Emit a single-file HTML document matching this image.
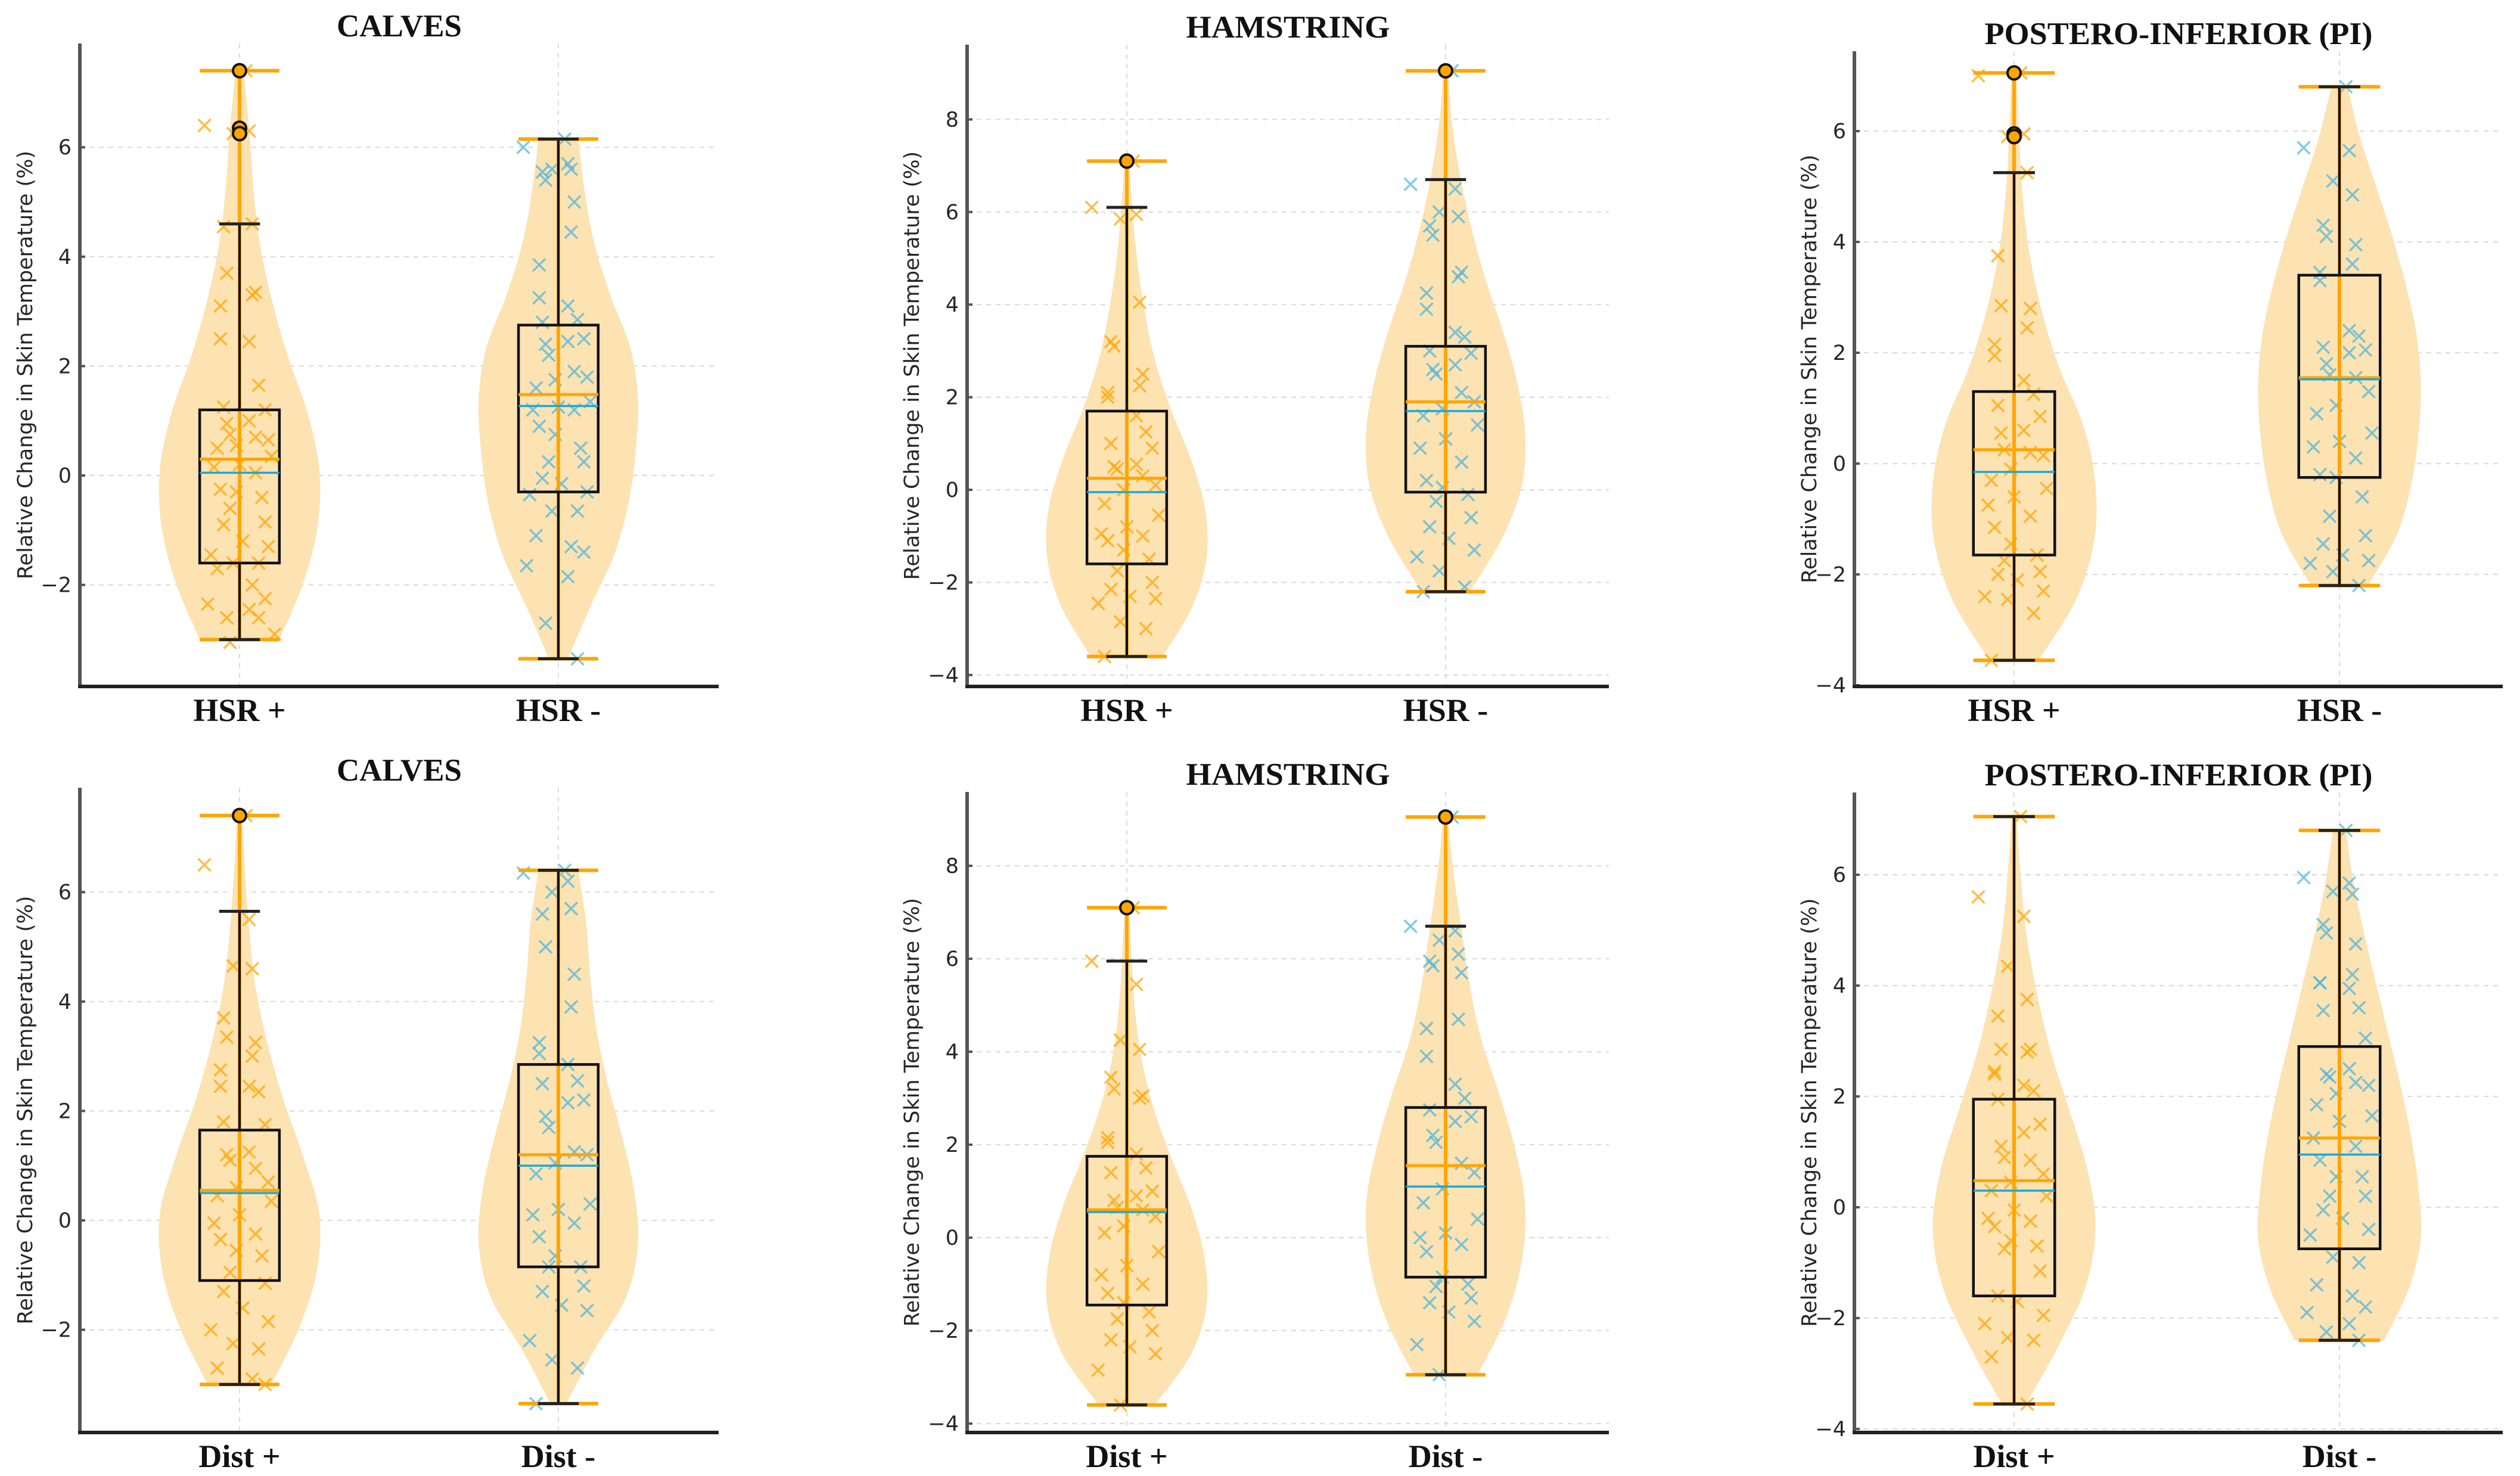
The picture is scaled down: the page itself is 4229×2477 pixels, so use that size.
<!DOCTYPE html>
<html><head><meta charset="utf-8">
<style>
html,body{margin:0;padding:0;background:#fff;}
svg{display:block;}
</style></head>
<body>
<svg id="fig" xmlns="http://www.w3.org/2000/svg" width="4229" height="2477" viewBox="0 0 4229 2477">
<rect width="4229" height="2477" fill="#fff"/>
</svg>
<script>
// ---------- DATA ----------
const panelTitles = ["CALVES","HAMSTRING","POSTERO-INFERIOR (PI)","CALVES","HAMSTRING","POSTERO-INFERIOR (PI)"];
const categoriesTop = ["HSR +","HSR -"];
const categoriesBottom = ["Dist +","Dist -"];
const ticksCalves = [-2,0,2,4,6];
const ticksHam = [-4,-2,0,2,4,6,8];
const ticksPI = [-4,-2,0,2,4,6];

// stats per group: [violinMin, violinMax, whiskerLow, whiskerHigh, q1, q3, median, mean]
const statsP1 = [[-3.0,7.4,-3.0,4.6,-1.6,1.2,0.3,0.05],[-3.35,6.15,-3.35,6.15,-0.3,2.75,1.48,1.27]];
const statsP2 = [[-3.6,7.1,-3.6,6.1,-1.6,1.7,0.25,-0.05],[-2.2,9.05,-2.2,6.7,-0.05,3.1,1.9,1.7]];
const statsP3 = [[-3.55,7.05,-3.55,5.25,-1.65,1.3,0.25,-0.15],[-2.2,6.8,-2.2,6.8,-0.25,3.4,1.55,1.52]];
const statsP4 = [[-3.0,7.4,-3.0,5.65,-1.1,1.65,0.55,0.5],[-3.35,6.4,-3.35,6.4,-0.85,2.85,1.2,1.0]];
const statsP5 = [[-3.6,7.1,-3.6,5.95,-1.45,1.75,0.6,0.55],[-2.95,9.05,-2.95,6.7,-0.85,2.8,1.55,1.1]];
const statsP6 = [[-3.55,7.05,-3.55,7.05,-1.6,1.95,0.48,0.3],[-2.4,6.8,-2.4,6.8,-0.75,2.9,1.25,0.95]];

// outliers
const outP1 = [[7.4,6.35,6.25],[]];
const outP2 = [[7.1],[9.05]];
const outP3 = [[7.05,5.95,5.9],[]];
const outP4 = [[7.4],[]];
const outP5 = [[7.1],[9.05]];
const outP6 = [[],[]];

// violin density profile (relative width at 11 evenly spaced levels from min to max)
const violP1 = [[0.5,0.8,0.98,1.0,0.85,0.6,0.4,0.25,0.17,0.12,0.05],[0.12,0.4,0.7,0.88,0.97,1.0,0.9,0.65,0.45,0.33,0.25]];
const violP2 = [[0.45,0.82,1.0,0.98,0.8,0.55,0.35,0.22,0.13,0.07,0.03],[0.3,0.7,0.95,1.0,0.9,0.72,0.5,0.32,0.18,0.08,0.03]];
const violP3 = [[0.3,0.75,0.98,1.0,0.85,0.55,0.33,0.18,0.1,0.06,0.03],[0.35,0.7,0.88,0.97,1.0,0.95,0.82,0.65,0.45,0.25,0.1]];
const violP4 = [[0.4,0.75,0.97,1.0,0.8,0.55,0.35,0.2,0.12,0.07,0.03],[0.1,0.45,0.85,1.0,0.95,0.8,0.62,0.48,0.4,0.35,0.25]];
const violP5 = [[0.35,0.8,1.0,0.97,0.8,0.55,0.33,0.18,0.1,0.06,0.03],[0.4,0.75,0.95,1.0,0.88,0.68,0.45,0.3,0.2,0.1,0.03]];
const violP6 = [[0.15,0.55,0.88,1.0,0.9,0.68,0.45,0.28,0.15,0.08,0.03],[0.55,0.85,1.0,0.97,0.88,0.75,0.6,0.45,0.3,0.17,0.08]];

// scatter values
const ptsP1a = [7.4,6.4,6.3,6.25,4.6,4.55,3.7,3.35,3.3,3.1,2.5,2.45,1.65,1.25,1.2,1.0,0.95,0.75,0.7,0.65,0.55,0.5,0.35,0.2,0.15,0.05,-0.25,-0.3,-0.4,-0.6,-0.85,-0.9,-1.2,-1.3,-1.45,-1.6,-1.6,-1.7,-2.0,-2.25,-2.35,-2.45,-2.6,-2.6,-2.9,-3.05];
const ptsP1b = [6.15,6.0,5.7,5.6,5.6,5.55,5.4,5.0,4.45,3.85,3.25,3.1,2.85,2.8,2.5,2.45,2.4,2.2,1.9,1.8,1.75,1.6,1.35,1.25,1.2,1.2,0.9,0.75,0.5,0.25,0.25,-0.05,-0.15,-0.3,-0.35,-0.65,-0.65,-1.1,-1.3,-1.4,-1.65,-1.85,-2.7,-3.35];
const ptsP2a = [7.1,6.1,5.95,5.85,4.05,3.2,3.1,2.5,2.25,2.1,2.0,1.6,1.25,1.0,0.9,0.55,0.5,0.45,0.3,0.1,0.0,-0.3,-0.55,-0.8,-0.95,-1.0,-1.1,-1.3,-1.5,-1.75,-2.0,-2.15,-2.3,-2.35,-2.45,-2.85,-3.0,-3.6];
const ptsP2b = [9.05,6.6,6.5,6.0,5.9,5.7,5.5,4.7,4.6,4.25,3.9,3.4,3.3,3.0,2.95,2.7,2.6,2.5,2.1,1.9,1.75,1.6,1.4,1.1,0.9,0.6,0.2,0.05,-0.1,-0.25,-0.6,-0.8,-1.05,-1.3,-1.45,-1.75,-2.1,-2.2];
const ptsP3a = [7.05,7.0,5.95,5.9,5.25,3.75,2.85,2.8,2.45,2.15,1.95,1.5,1.25,1.05,0.85,0.6,0.55,0.25,0.2,0.15,-0.1,-0.3,-0.45,-0.6,-0.75,-0.95,-1.15,-1.45,-1.65,-1.75,-1.95,-2.0,-2.1,-2.3,-2.4,-2.45,-2.7,-3.55];
const ptsP3b = [6.8,5.7,5.65,5.1,4.85,4.3,4.1,3.95,3.6,3.45,3.3,2.4,2.3,2.1,2.05,2.0,1.8,1.6,1.55,1.3,1.05,0.9,0.55,0.4,0.3,0.1,-0.2,-0.25,-0.6,-0.95,-1.3,-1.45,-1.65,-1.75,-1.8,-1.95,-2.2];
const ptsP4a = [7.4,6.5,5.5,4.65,4.6,3.7,3.35,3.25,3.0,2.75,2.45,2.45,2.35,1.8,1.75,1.25,1.2,1.1,0.95,0.7,0.6,0.45,0.35,0.1,-0.05,-0.25,-0.35,-0.55,-0.65,-0.95,-1.15,-1.3,-1.6,-1.85,-2.0,-2.25,-2.35,-2.7,-2.9,-3.0];
const ptsP4b = [6.4,6.35,6.2,6.0,5.7,5.6,5.0,4.5,3.9,3.25,3.05,2.85,2.55,2.5,2.2,2.15,1.9,1.7,1.25,1.2,1.05,0.85,0.3,0.2,0.1,-0.05,-0.3,-0.65,-0.85,-0.85,-1.2,-1.3,-1.55,-1.65,-2.2,-2.55,-2.7,-3.35];
const ptsP5a = [7.1,5.95,5.45,4.25,4.05,3.45,3.2,3.05,3.0,2.15,2.05,1.8,1.5,1.4,1.0,0.9,0.8,0.65,0.6,0.45,0.25,0.1,-0.3,-0.6,-0.8,-1.0,-1.2,-1.4,-1.6,-1.75,-2.0,-2.2,-2.35,-2.5,-2.85,-3.6];
const ptsP5b = [9.05,6.7,6.6,6.4,6.1,5.95,5.85,5.7,4.7,4.5,3.9,3.3,3.0,2.75,2.6,2.5,2.2,2.05,1.6,1.4,1.05,0.75,0.4,0.1,0.0,-0.15,-0.3,-0.85,-1.0,-1.05,-1.3,-1.4,-1.6,-1.8,-2.3,-2.95];
const ptsP6a = [7.05,5.6,5.25,4.35,3.75,3.45,2.85,2.85,2.8,2.45,2.4,2.2,2.1,1.95,1.5,1.35,1.1,0.9,0.85,0.6,0.45,0.3,0.2,-0.05,-0.2,-0.25,-0.35,-0.6,-0.7,-0.75,-1.15,-1.6,-1.7,-1.95,-2.1,-2.35,-2.4,-2.7,-3.55];
const ptsP6b = [6.8,5.95,5.85,5.7,5.65,5.1,4.95,4.75,4.2,4.05,4.05,3.95,3.6,3.55,3.05,2.5,2.4,2.35,2.25,2.2,2.05,1.85,1.65,1.55,1.25,1.1,0.85,0.55,0.55,0.2,0.2,-0.05,-0.2,-0.4,-0.5,-0.9,-1.0,-1.4,-1.6,-1.8,-1.9,-2.1,-2.25,-2.4];

// jitter offsets (x-units) for scatter markers
const jitter = [0.02,-0.11,0.03,-0.02,0.04,-0.05,-0.04,0.05,0.04,-0.06,-0.06,0.03,0.06,-0.05,0.08,0.03,-0.04,-0.03,0.05,0.09,-0.01,-0.07,0.1,0.0,-0.08,0.05,-0.06,-0.01,0.07,-0.03,0.08,-0.05,0.01,0.09,-0.09,-0.02,0.06,-0.07,0.04,0.08,-0.1,0.03,-0.04,0.06,0.11,-0.03];

// ---------- LAYOUT (pixels) ----------
const layouts = [
 {L:134,R:1206,T:73,B:1152,c:[402,937],z:798,u:91.8,ylx:42},
 {L:1623,R:2700,T:75,B:1152,c:[1891,2426],z:822,u:77.7,ylx:1530},
 {L:3112,R:4200,T:86,B:1152,c:[3380,3926],z:778,u:93,ylx:3036},
 {L:134,R:1206,T:1322,B:2404,c:[402,937],z:2048,u:91.8,ylx:42},
 {L:1623,R:2700,T:1329,B:2404,c:[1891,2426],z:2077,u:78,ylx:1530},
 {L:3112,R:4200,T:1330,B:2404,c:[3380,3926],z:2026,u:93,ylx:3036}
];
const panelStats=[statsP1,statsP2,statsP3,statsP4,statsP5,statsP6];
const panelOut=[outP1,outP2,outP3,outP4,outP5,outP6];
const panelViol=[violP1,violP2,violP3,violP4,violP5,violP6];
const panelPts=[[ptsP1a,ptsP1b],[ptsP2a,ptsP2b],[ptsP3a,ptsP3b],[ptsP4a,ptsP4b],[ptsP5a,ptsP5b],[ptsP6a,ptsP6b]];
const panelTicks=[ticksCalves,ticksHam,ticksPI,ticksCalves,ticksHam,ticksPI];

const NS="http://www.w3.org/2000/svg";
const svg=document.getElementById('fig');
function mk(tag,attrs,parent){const e=document.createElementNS(NS,tag);for(const k in attrs)e.setAttribute(k,attrs[k]);(parent||svg).appendChild(e);return e;}
const ORANGE="#ffa500", BLUE="#1ba8d8", VIOL="#fde2b2";

for(let p=0;p<6;p++){
  const Lo=layouts[p];
  const g=mk('g',{});
  
  
  const yS=v=>Lo.z-v*Lo.u;
  const unitX=(Lo.c[1]-Lo.c[0]);
  const xS=(i,off)=>Lo.c[i]+off*unitX;
  panelTicks[p].forEach(t=>{
    const y=yS(t);
    const gl=mk('line',{x1:Lo.L,x2:Lo.R,y1:y,y2:y,stroke:'#dcdcdc','stroke-width':2.2,'stroke-dasharray':'8,8'},g);
    
    
    const tk=mk('line',{x1:Lo.L,x2:Lo.L+9,y1:y,y2:y,stroke:'#555','stroke-width':4},g);
    
    
    const tl=mk('text',{x:Lo.L-14,y:y+12,'text-anchor':'end','font-family':'DejaVu Sans, Liberation Sans, sans-serif','font-size':35,fill:'#262626'},g);
    tl.textContent=(t<0?'\u2212'+(-t):String(t));
    
    
  });
  Lo.c.forEach(cx=>{
    const vl=mk('line',{x1:cx,x2:cx,y1:Lo.T,y2:Lo.B,stroke:'#dcdcdc','stroke-width':2.2,'stroke-dasharray':'8,8'},g);
    
    
  });
  for(let gi=0;gi<2;gi++){
    const s=panelStats[p][gi];
    const prof=panelViol[p][gi];
    const n=prof.length, maxHalf=0.25;
    const ptsR=[],ptsL=[];
    for(let k=0;k<n;k++){
      const v=s[0]+(s[1]-s[0])*k/(n-1);
      ptsR.push([xS(gi,prof[k]*maxHalf),yS(v)]);
      ptsL.push([xS(gi,-prof[k]*maxHalf),yS(v)]);
    }
    function smooth(pts){let d='';for(let i=0;i<pts.length-1;i++){const p0=pts[Math.max(0,i-1)],p1=pts[i],p2=pts[i+1],p3=pts[Math.min(pts.length-1,i+2)];const c1=[p1[0]+(p2[0]-p0[0])/6,p1[1]+(p2[1]-p0[1])/6],c2=[p2[0]-(p3[0]-p1[0])/6,p2[1]-(p3[1]-p1[1])/6];d+=` C${c1[0]},${c1[1]} ${c2[0]},${c2[1]} ${p2[0]},${p2[1]}`;}return d;}
    const Lr=ptsL.slice().reverse();
    let d=`M${ptsR[0][0]},${ptsR[0][1]}`+smooth(ptsR)+` L${Lr[0][0]},${Lr[0][1]}`+smooth(Lr)+' Z';
    const vp=mk('path',{d:d,fill:VIOL,stroke:'none'},g);
    
    
    panelPts[p][gi].forEach((v,k)=>{
      const x=xS(gi,jitter[k%jitter.length]),y=yS(v),r=10.5;
      const m=mk('path',{d:`M${x-r},${y-r}L${x+r},${y+r}M${x-r},${y+r}L${x+r},${y-r}`,stroke:gi==0?ORANGE:'#45b4df','stroke-width':3.4,'stroke-opacity':gi==0?0.75:0.7,fill:'none'},g);
      
      
    });
    const vb=mk('line',{x1:xS(gi,0),x2:xS(gi,0),y1:yS(s[0]),y2:yS(s[1]),stroke:ORANGE,'stroke-width':6},g);
    
    
    [s[0],s[1]].forEach(v=>{
      const c=mk('line',{x1:xS(gi,-0.125),x2:xS(gi,0.125),y1:yS(v),y2:yS(v),stroke:ORANGE,'stroke-width':6},g);
      
      
    });
    const w1=mk('line',{x1:xS(gi,0),x2:xS(gi,0),y1:yS(s[2]),y2:yS(s[4]),stroke:'#111','stroke-width':4},g);
    
    
    const w2=mk('line',{x1:xS(gi,0),x2:xS(gi,0),y1:yS(s[5]),y2:yS(s[3]),stroke:'#111','stroke-width':4},g);
    
    
    [s[2],s[3]].forEach(v=>{
      const c=mk('line',{x1:xS(gi,-0.064),x2:xS(gi,0.064),y1:yS(v),y2:yS(v),stroke:'#222','stroke-width':5},g);
      
      
    });
    const bx=mk('rect',{x:xS(gi,-0.125),y:yS(s[5]),width:0.25*unitX,height:yS(s[4])-yS(s[5]),fill:'none',stroke:'#111','stroke-width':4.5},g);
    
    
    const md=mk('line',{x1:xS(gi,-0.125),x2:xS(gi,0.125),y1:yS(s[6]),y2:yS(s[6]),stroke:ORANGE,'stroke-width':5},g);
    
    
    const mn=mk('line',{x1:xS(gi,-0.125),x2:xS(gi,0.125),y1:yS(s[7]),y2:yS(s[7]),stroke:BLUE,'stroke-width':3.5},g);
    
    
    panelOut[p][gi].forEach(v=>{
      const o=mk('circle',{cx:xS(gi,0),cy:yS(v),r:11,fill:ORANGE,stroke:'#111','stroke-width':4},g);
      
      
    });
  }
  const sl=mk('line',{x1:Lo.L,x2:Lo.L,y1:Lo.T,y2:Lo.B+3,stroke:'#555','stroke-width':6},g);
  
  
  const sb=mk('line',{x1:Lo.L-3,x2:Lo.R,y1:Lo.B,y2:Lo.B,stroke:'#222','stroke-width':6},g);
  
  
  const cats=p<3?categoriesTop:categoriesBottom;
  cats.forEach((c,i)=>{
    const t=mk('text',{x:Lo.c[i],y:Lo.B+58,'text-anchor':'middle','font-family':'Liberation Serif, serif','font-weight':'bold','font-size':54,fill:'#111'},g);
    t.textContent=c;
    
    
  });
  const ttlW=[210,342,651][p%3];
  const tt=mk('text',{x:(Lo.L+Lo.R)/2,y:Lo.T-12,'text-anchor':'middle','font-family':'Liberation Serif, serif','font-weight':'bold','font-size':53,fill:'#111',textLength:ttlW,lengthAdjust:'spacingAndGlyphs'},g);
  tt.textContent=panelTitles[p];
  
  
  const cy=(Lo.T+Lo.B)/2;
  const yl=mk('text',{x:Lo.ylx,y:cy,'text-anchor':'middle','font-family':'DejaVu Sans, Liberation Sans, sans-serif','font-size':35,fill:'#262626',transform:`rotate(-90 ${Lo.ylx} ${cy}) translate(0 12)`},g);
  yl.textContent='Relative Change in Skin Temperature (%)';
  
  
}
</script>
</body></html>
